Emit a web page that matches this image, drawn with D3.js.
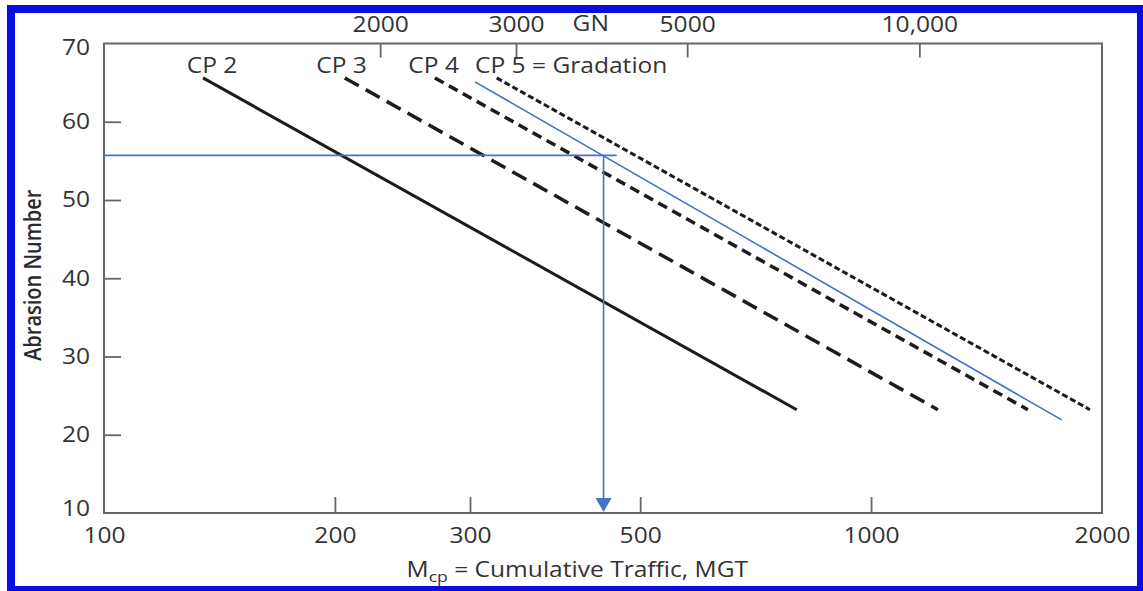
<!DOCTYPE html>
<html>
<head>
<meta charset="utf-8">
<script src="https://cdn.jsdelivr.net/npm/d3@7/dist/d3.min.js"></script>
<style>
  body { margin: 0; background: #fff; }
  svg { display: block; font-family: "Open Sans", Lato, sans-serif; }
</style>
</head>
<body>
<div id="chart"></div>
<script>
// --- Data ---
// each line: [start, end] as [cumulative traffic MGT, abrasion number]
const seriesNames = ["CP 2", "CP 3", "CP 4", "CP 5"];
const cp2Line = [[134.6, 65.6], [800, 23.2]];
const cp3Line = [[206, 65.6], [1222, 23.2]];
const cp4Line = [[270, 65.6], [1601, 23.2]];
const cp5Line = [[325, 65.6], [1929, 23.2]];
const exampleLine = [[304.5, 65.1], [1772, 21.9]]; // blue worked example
const readoutAN = 55.7;      // horizontal read-out level
const readoutMGT = 448;      // vertical read-out (arrow) position
const readoutEndMGT = 466;   // where the horizontal read-out stops

// label anchors (MGT) for the line names
const labelAt = [138.3, 204, 269, 304.5];
const labelText = ["CP 2", "CP 3", "CP 4", "CP 5 = Gradation"];

const xLabels = [100, 200, 300, 500, 1000, 2000];
const yLabels = [10, 20, 30, 40, 50, 60, 70];
const gnTicks = [2000, 3000, 5000, 10000];
const gnTitleAt = 3750;
const xTitleAt = 414;

// --- Layout ---
const dimensions = {
    width: 1143,
    height: 591,
    margin: { top: 43.5, right: 41, bottom: 78, left: 104 }
};
const width = dimensions.width - dimensions.margin.left - dimensions.margin.right;
const height = dimensions.height - dimensions.margin.top - dimensions.margin.bottom;
const STRETCH = 1.17;   // the source figure is stretched sideways
const textColor = "#333";
const axisColor = "#666";
const blue = "#4472c4";

const svgRoot = d3.select("#chart").append("svg")
    .attr("width", dimensions.width)
    .attr("height", dimensions.height);

// blue outer border
svgRoot.append("rect")
    .attr("x", 11).attr("y", 9)
    .attr("width", 1130).attr("height", 581)
    .attr("fill", "none")
    .attr("stroke", "#0b0be6")
    .attr("stroke-width", 8);

const svg = svgRoot.append("g")
    .attr("transform", `translate(${dimensions.margin.left}, ${dimensions.margin.top})`);

const xScale = d3.scaleLog().domain([100, 2000]).range([0, width]);
const yScale = d3.scaleLinear().domain([10, 70]).range([height, 0]);
// GN scale along the top (fitted to the printed ticks)
const gnScale = d3.scaleLog().domain([877, 17250]).range([0, width]);

function stretch(sel) {
    sel.attr("transform", function () {
        const prev = d3.select(this).attr("transform") || "";
        return prev + ` scale(${STRETCH},1)`;
    });
}

function styleAxis(g, edgeValues) {
    g.select(".domain").remove();
    g.selectAll(".tick line")
        .attr("stroke", axisColor)
        .attr("stroke-width", 1.8)
        .attr("opacity", d => edgeValues.includes(d) ? 0 : 1);
    g.selectAll("text")
        .attr("fill", textColor)
        .style("font-size", "21px")
        .style("font-weight", 500);
    g.attr("font-family", null).attr("font-size", null);
}

// --- AXES ---
const xAxis = svg.append("g")
    .attr("transform", `translate(0, ${height})`)
    .call(d3.axisBottom(xScale)
        .tickValues(xLabels)
        .tickFormat(d3.format("d"))
        .tickSize(-16)
        .tickPadding(15));
styleAxis(xAxis, [100, 2000]);
stretch(xAxis.selectAll("text"));

const yAxis = svg.append("g")
    .call(d3.axisLeft(yScale)
        .tickValues(yLabels)
        .tickSize(-17)
        .tickPadding(12));
styleAxis(yAxis, [10, 70]);
yAxis.selectAll("text")
    .attr("dy", d => d === 70 ? "0.52em" : d === 10 ? "0.14em" : "0.33em");
stretch(yAxis.selectAll("text"));

const topAxis = svg.append("g")
    .call(d3.axisTop(gnScale)
        .tickValues(gnTicks)
        .tickFormat(d => d === 10000 ? "10,000" : String(d))
        .tickSize(-14)
        .tickPadding(12));
styleAxis(topAxis, []);
stretch(topAxis.selectAll("text"));

// GN title between the top tick labels
svg.append("text")
    .attr("transform", `translate(${gnScale(gnTitleAt)}, -12.5) scale(${STRETCH},1)`)
    .attr("text-anchor", "middle")
    .attr("fill", textColor)
    .style("font-size", "21px")
    .style("font-weight", 500)
    .text("GN");

// plot frame
svg.append("rect")
    .attr("width", width).attr("height", height)
    .attr("fill", "none")
    .attr("stroke", axisColor)
    .attr("stroke-width", 2);

// axis titles
const xTitle = svg.append("text")
    .attr("transform", `translate(${xScale(xTitleAt)}, ${height + 64}) scale(${STRETCH},1)`)
    .attr("text-anchor", "middle")
    .attr("fill", textColor)
    .style("font-size", "21px")
    .style("font-weight", 500);
xTitle.append("tspan").text("M");
xTitle.append("tspan").attr("dy", 5).style("font-size", "15px").text("cp");
xTitle.append("tspan").attr("dy", -5).text(" = Cumulative Traffic, MGT");

svg.append("text")
    .attr("transform", `translate(${-63}, ${yScale(40) - 3}) scale(${STRETCH},1) rotate(-90)`)
    .attr("text-anchor", "middle")
    .attr("fill", "#2a2a2a")
    .style("font-size", "20px")
    .style("font-weight", 600)
    .text("Abrasion Number");

// --- LINES ---
const line = d3.line()
    .x(d => xScale(d[0]))
    .y(d => yScale(d[1]));

const cpLines = [cp2Line, cp3Line, cp4Line, cp5Line];
const dashes = [null, "16,8", "10,6", "6,3"];
const widths = [3, 3.5, 3.5, 3];

svg.selectAll(".cp-line")
    .data(cpLines)
    .enter()
    .append("path")
    .attr("class", "cp-line")
    .attr("d", line)
    .attr("fill", "none")
    .attr("stroke", "#1c1c1c")
    .attr("stroke-width", (d, i) => widths[i])
    .attr("stroke-dasharray", (d, i) => dashes[i]);

svg.append("path")
    .attr("d", line(exampleLine))
    .attr("fill", "none")
    .attr("stroke", blue)
    .attr("stroke-width", 1.6);

// line names
svg.selectAll(".cp-label")
    .data(labelText)
    .enter()
    .append("text")
    .attr("class", "cp-label")
    .attr("transform", (d, i) => `translate(${xScale(labelAt[i])}, ${yScale(cp2Line[0][1]) - 5}) scale(${STRETCH},1)`)
    .attr("text-anchor", (d, i) => i === 3 ? "start" : "middle")
    .attr("fill", textColor)
    .style("font-size", "21px")
    .style("font-weight", 500)
    .text(d => d);

// --- READ-OUT (horizontal line + arrow down) ---
svg.append("line")
    .attr("x1", xScale(100)).attr("x2", xScale(readoutEndMGT))
    .attr("y1", yScale(readoutAN)).attr("y2", yScale(readoutAN))
    .attr("stroke", blue)
    .attr("stroke-width", 1.6);

const ax = xScale(readoutMGT);
const tipY = yScale(10);
svg.append("line")
    .attr("x1", ax).attr("x2", ax)
    .attr("y1", yScale(readoutAN)).attr("y2", tipY - 14)
    .attr("stroke", blue)
    .attr("stroke-width", 1.6);

svg.append("path")
    .attr("d", `M${ax - 8},${tipY - 15} L${ax + 8},${tipY - 15} L${ax},${tipY - 1} Z`)
    .attr("fill", blue);
</script>
</body>
</html>
